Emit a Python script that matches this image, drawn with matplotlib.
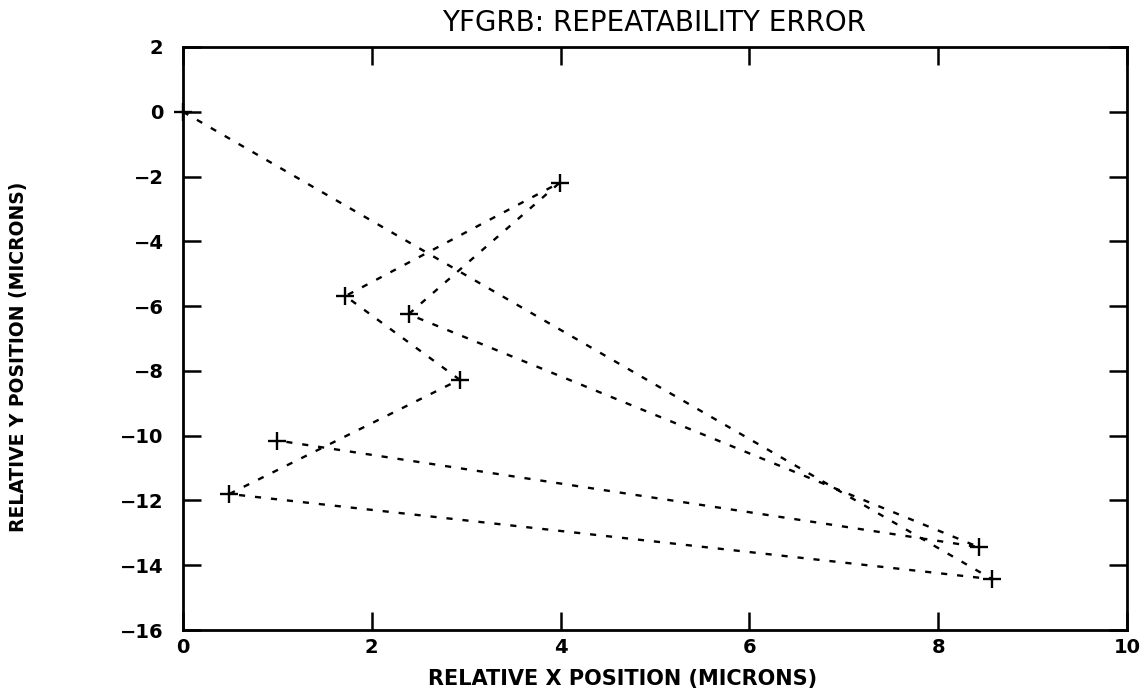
import matplotlib.pyplot as plt

# Measured positions, in the order they were visited (starts at the origin)
x_pos = [0.0, 8.57, 0.49, 2.93, 1.72, 3.99, 2.39, 8.43, 1.00]
y_pos = [0.0, -14.43, -11.80, -8.27, -5.69, -2.19, -6.25, -13.44, -10.15]

x_ticks = [0, 2, 4, 6, 8, 10]
y_ticks = [2, 0, -2, -4, -6, -8, -10, -12, -14, -16]

title = "YFGRB: REPEATABILITY ERROR"
x_label = "RELATIVE X POSITION (MICRONS)"
y_label = "RELATIVE Y POSITION (MICRONS)"

W, H = 1147, 698
fig = plt.figure(figsize=(W / 100, H / 100), dpi=100)
ax = fig.add_axes([183 / W, 1 - 630 / H, (1127 - 183) / W, (630 - 47) / H])

ax.plot(x_pos, y_pos, color="black", lw=1.7, dashes=(2.6, 4.2))
ax.plot(x_pos, y_pos, ls="none", marker="+", ms=13, mew=1.7,
        color="black", clip_on=False)

ax.set_xlim(0, 10)
ax.set_ylim(-16, 2)
ax.set_xticks(x_ticks)
ax.set_yticks(y_ticks)
ax.tick_params(direction="in", length=13, width=1.8, top=True, right=True,
               labelsize=14)
ax.tick_params(axis="y", pad=14)
ax.tick_params(axis="x", pad=6)
for lab in ax.get_xticklabels() + ax.get_yticklabels():
    lab.set_fontweight("bold")
for sp in ax.spines.values():
    sp.set_linewidth(2)

fig.text(654 / W, 1 - 23 / H, title, ha="center", va="center", fontsize=20)
fig.text(623 / W, 1 - 679 / H, x_label, ha="center", va="center",
         fontsize=15, fontweight="bold")
fig.text(19 / W, 1 - 357 / H, y_label, ha="center", va="center",
         rotation=90, fontsize=13.5, fontweight="bold")

fig.savefig("out.png", dpi=100, facecolor="white")
